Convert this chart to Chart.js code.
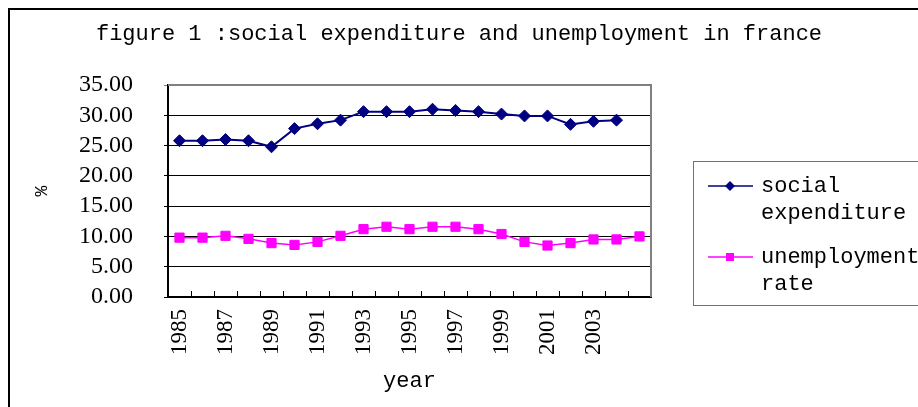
<!DOCTYPE html>
<html>
<head>
<meta charset="utf-8">
<script src="https://cdn.jsdelivr.net/npm/chart.js@4/dist/chart.umd.min.js"></script>
<style>
  html, body { margin: 0; padding: 0; background: #fff; }
  #wrap { width: 918px; height: 407px; }
</style>
</head>
<body>
<div id="wrap"><canvas id="c" width="918" height="407"></canvas></div>
<script>
// ---- data ----
const categories = ['1985','1986','1987','1988','1989','1990','1991','1992','1993','1994',
                    '1995','1996','1997','1998','1999','2000','2001','2002','2003','2004',''];
const socialExpenditure = [25.8, 25.8, 26.0, 25.8, 24.8, 27.8, 28.6, 29.2, 30.6, 30.6,
                           30.6, 31.0, 30.8, 30.6, 30.2, 29.9, 29.9, 28.5, 29.0, 29.2, null];
const unemploymentRate = [9.8, 9.8, 10.1, 9.6, 8.9, 8.6, 9.1, 10.1, 11.2, 11.6,
                          11.2, 11.6, 11.6, 11.2, 10.4, 9.1, 8.5, 8.9, 9.5, 9.5, 10.0];
const yTicks = { min: 0, max: 35, step: 5 };
const titleText = 'figure 1 :social expenditure and unemployment in france';
const seriesNames = ['social expenditure', 'unemployment rate'];
const xTitle = 'year';
const yTitle = '%';

const MONO = '"Liberation Mono", "DejaVu Sans Mono", monospace';
const SERIF = '"Liberation Serif", "DejaVu Serif", serif';

const PLOT_LEFT = 168, PLOT_RIGHT = 651, PLOT_TOP = 85, PLOT_BOTTOM = 297;

const framePlugin = {
  id: 'frame',
  beforeDatasetsDraw(chart) {
    const ctx = chart.ctx;
    const a = chart.chartArea;
    const xs = chart.scales.x;
    ctx.save();
    // inner tick marks on x axis (between categories)
    ctx.strokeStyle = '#000';
    ctx.lineWidth = 1;
    const n = xs.getLabels().length;
    const half = (xs.getPixelForValue(1) - xs.getPixelForValue(0)) / 2;
    ctx.beginPath();
    for (let i = 0; i <= n; i++) {
      const px = Math.round(xs.getPixelForValue(i) - half) + 0.5;
      ctx.moveTo(px, a.bottom);
      ctx.lineTo(px, a.bottom - 6);
    }
    ctx.stroke();
    // gray top/right border of plot
    ctx.strokeStyle = '#808080';
    ctx.lineWidth = 2;
    ctx.beginPath();
    ctx.moveTo(a.left, a.top);
    ctx.lineTo(a.right, a.top);
    ctx.lineTo(a.right, a.bottom);
    ctx.stroke();
    ctx.restore();
  },
  afterDraw(chart) {
    const ctx = chart.ctx;
    ctx.save();
    // outer frame
    ctx.strokeStyle = '#000';
    ctx.lineWidth = 2;
    ctx.strokeRect(9, 9, 1000, 1000);
    // legend box
    ctx.strokeStyle = '#707070';
    ctx.lineWidth = 1;
    ctx.strokeRect(693.5, 161.5, 400, 144);
    const rows = [186, 257];
    ctx.font = '22px ' + MONO;
    ctx.textBaseline = 'middle';
    ctx.textAlign = 'left';
    chart.data.datasets.forEach((ds, i) => {
      const y = rows[i];
      ctx.strokeStyle = ds.borderColor;
      ctx.lineWidth = 1.5;
      ctx.beginPath();
      ctx.moveTo(708, y);
      ctx.lineTo(753, y);
      ctx.stroke();
      ctx.fillStyle = ds.borderColor;
      ctx.beginPath();
      if (ds.pointStyle === 'rectRot') {
        ctx.moveTo(730, y - 5); ctx.lineTo(735, y); ctx.lineTo(730, y + 5); ctx.lineTo(725, y);
      } else {
        ctx.rect(726, y - 4, 8, 8);
      }
      ctx.closePath();
      ctx.fill();
      ctx.fillStyle = '#000';
      const words = ds.label.split(' ');
      words.forEach((w, k) => ctx.fillText(w, 761, y + k * 27));
    });
    ctx.restore();
  }
};

Chart.defaults.color = '#000';

new Chart(document.getElementById('c'), {
  type: 'line',
  data: {
    labels: categories,
    datasets: [
      {
        label: seriesNames[0],
        data: socialExpenditure,
        borderColor: '#000080',
        backgroundColor: '#000080',
        borderWidth: 2,
        pointStyle: 'rectRot',
        pointRadius: 6,
        pointBorderWidth: 1,
        tension: 0,
        fill: false
      },
      {
        label: seriesNames[1],
        data: unemploymentRate,
        borderColor: '#FF00FF',
        backgroundColor: '#FF00FF',
        borderWidth: 1.5,
        pointStyle: 'rect',
        pointRadius: 6.5,
        pointBorderWidth: 1,
        tension: 0,
        fill: false
      }
    ]
  },
  options: {
    responsive: false,
    animation: false,
    layout: { padding: 0 },
    plugins: {
      legend: { display: false },
      tooltip: { enabled: false },
      title: {
        display: true,
        text: titleText,
        color: '#000',
        font: { family: MONO, size: 22, weight: 'normal' },
        padding: { top: 21, bottom: PLOT_TOP - 21 - 26.4 }
      }
    },
    scales: {
      x: {
        type: 'category',
        offset: true,
        grid: { display: true, drawOnChartArea: false, drawTicks: false, offset: true },
        border: { display: true, color: '#000', width: 2 },
        ticks: {
          autoSkip: false,
          minRotation: 90,
          maxRotation: 90,
          padding: 12,
          color: '#000',
          font: { family: SERIF, size: 23 },
          callback: function (v, i) { return i % 2 === 0 ? this.getLabelForValue(v) : ''; }
        },
        title: {
          display: true,
          text: xTitle,
          color: '#000',
          font: { family: MONO, size: 22 },
          padding: { top: 13, bottom: 13 }
        },
        afterFit: function (s) { s.height = 407 - PLOT_BOTTOM; }
      },
      y: {
        min: yTicks.min,
        max: yTicks.max,
        grid: {
          color: (c) => (c.tick && c.tick.value === yTicks.max ? '#808080' : '#000'),
          lineWidth: 1,
          drawTicks: true,
          tickLength: 4
        },
        border: { display: true, color: '#000', width: 2 },
        ticks: {
          stepSize: yTicks.step,
          autoSkip: false,
          padding: 31,
          color: '#000',
          font: { family: SERIF, size: 24 },
          callback: (v) => Number(v).toFixed(2)
        },
        title: {
          display: true,
          text: yTitle,
          color: '#000',
          font: { family: MONO, size: 18 },
          padding: { top: 31, bottom: 31 }
        },
        afterFit: function (s) { s.width = PLOT_LEFT; }
      },
      // reserves the space on the right where the legend box sits
      legendSpace: {
        type: 'linear',
        position: 'right',
        display: true,
        grid: { display: false, drawOnChartArea: false },
        border: { display: false },
        ticks: { display: false },
        afterFit: function (s) { s.width = 918 - PLOT_RIGHT; }
      }
    }
  },
  plugins: [framePlugin]
});
</script>
</body>
</html>
